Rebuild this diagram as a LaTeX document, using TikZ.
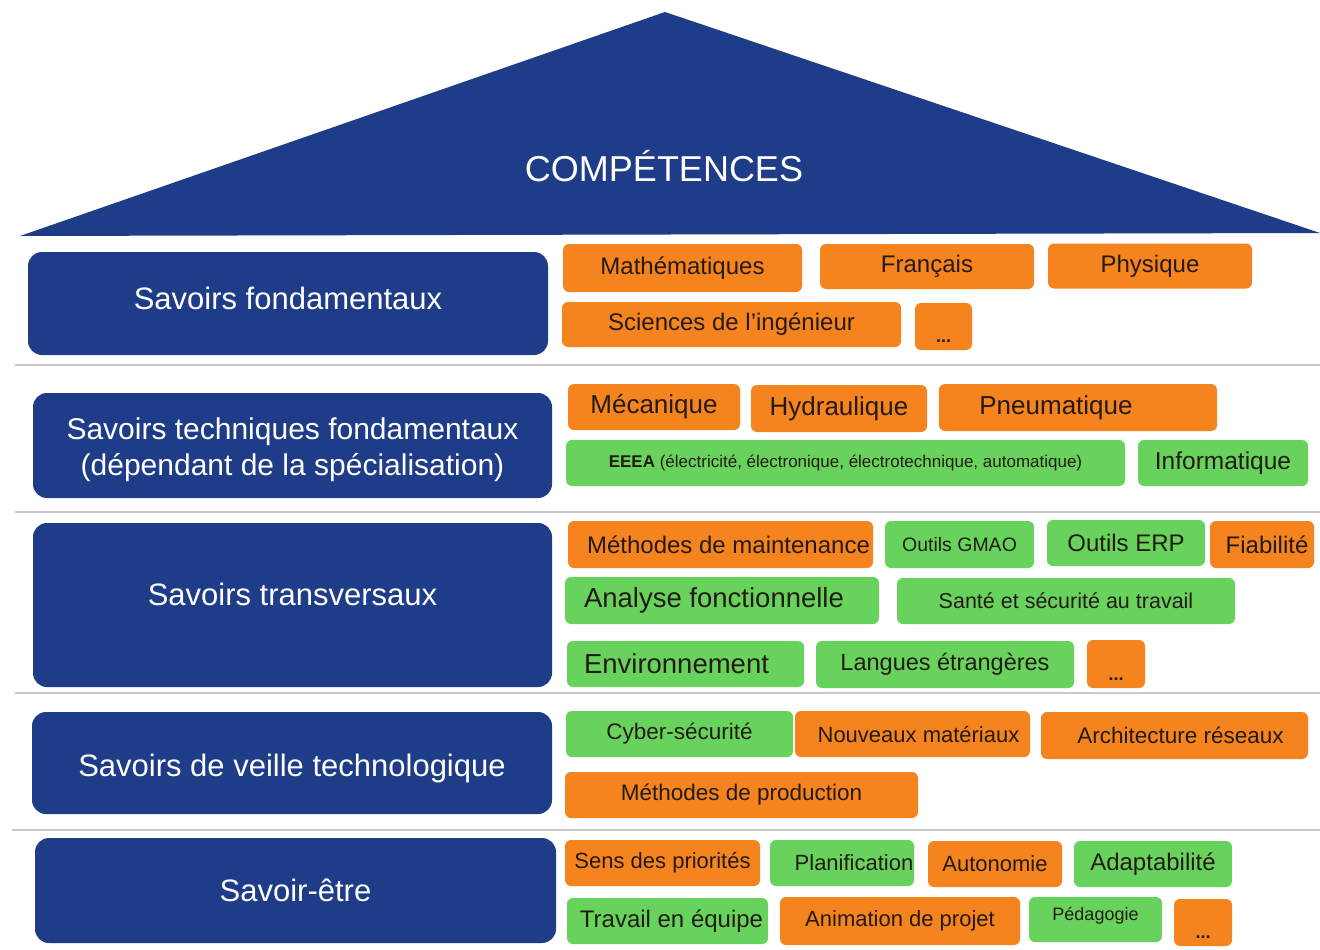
\documentclass[tikz,border=0pt]{standalone}
\usepackage{fontspec}
\setmainfont{Liberation Sans}
\definecolor{cblue}{HTML}{1F3C88}
\definecolor{corange}{HTML}{F5841F}
\definecolor{cgreen}{HTML}{68D35C}
\definecolor{cgray}{HTML}{C8C8C8}
\definecolor{ctext}{HTML}{241A14}
\newcommand{\fsz}[1]{\fontsize{#1pt}{#1pt}\selectfont}
\begin{document}
\begin{tikzpicture}[x=1pt,y=-1pt,
  sz/.style 2 args={minimum width=#1pt, minimum height=#2pt},
  lbox/.style={fill=cblue, rounded corners=14pt, text=white, align=center, inner sep=0pt, font=\fsz{31}},
  ltext/.style={text=white, align=center, font=\fsz{31}},
  ob/.style={fill=corange, rounded corners=6pt, text=ctext, inner sep=0pt},
  gb/.style={fill=cgreen, rounded corners=6pt, text=ctext, inner sep=0pt},
  dotsty/.style={text=ctext, font=\bfseries\fsz{18}, yshift=-15pt},
  sep/.style={draw=cgray, line width=2pt}]
\useasboundingbox (0,0) rectangle (1320,950);
\fill[white] (0,0) rectangle (1320,950);

% roof
\coordinate (rl) at (20,236);
\coordinate (rt) at (665,12);
\coordinate (rr) at (1320,233);
\fill[cblue] (rl) -- (rt) -- (rr) -- cycle;
\node[text=white, font=\fsz{36}] (comp) at (664,166) {COMPÉTENCES};

% separators
\draw[sep] (15,365) -- (1320,365);
\draw[sep] (15,512) -- (1320,512);
\draw[sep] (15,693) -- (1320,693);
\draw[sep] (12,830) -- (1320,830);

% left blocks
\node[lbox, sz={520}{103}, label={[ltext, yshift=5pt]center:Savoirs fondamentaux}] (L1) at (288,303.5) {};
\node[lbox, sz={519}{105}, label={[ltext, font=\fsz{30}, yshift=-4pt]center:{Savoirs techniques fondamentaux\\[6pt](dépendant de la spécialisation)}}] (L2) at (292.5,445.5) {};
\node[lbox, sz={519}{164}, label={[ltext, yshift=11pt]center:Savoirs transversaux}] (L3) at (292.5,605) {};
\node[lbox, sz={520}{102}, label={[ltext, yshift=-5pt]center:Savoirs de veille technologique}] (L4) at (292,763) {};
\node[lbox, sz={521}{105}] (L5) at (295.5,890.5) {Savoir-être};

% row 1
\node[ob, sz={239}{48}, font=\fsz{24}] (math) at (682.5,268) {Mathématiques};
\node[ob, sz={214}{45}, font=\fsz{24}] (fr) at (927,266.5) {Français};
\node[ob, sz={204}{45}, font=\fsz{24}] (phys) at (1150,266) {Physique};
\node[ob, sz={339}{45}, font=\fsz{24}] (sci) at (731.5,324.5) {Sciences de l’ingénieur};
\node[ob, sz={57}{47}, label={[dotsty]center:...}] (d1) at (943.5,326.5) {};

% row 2
\node[ob, sz={172}{46}, font=\fsz{26}] (meca) at (654,407) {\raisebox{-3pt}{Mécanique}};
\node[ob, sz={176}{47}, font=\fsz{26}] (hydr) at (839,408.5) {Hydraulique};
\node[ob, sz={278}{47}, font=\fsz{26}] (pneu) at (1078,407.5) {\raisebox{-3pt}{Pneumatique}\hspace*{44pt}};
\node[gb, sz={559}{46}, font=\fsz{17}] (eeea) at (845.5,463) {\textbf{EEEA} (électricité, électronique, électrotechnique, automatique)};
\node[gb, sz={170}{46}, font=\fsz{24.5}] (info) at (1223,463) {Informatique};

% row 3
\node[ob, sz={305}{47}, font=\fsz{24}] (mmaint) at (720.5,544.5) {\hspace*{16pt}Méthodes de maintenance};
\node[gb, sz={149}{47}, font=\fsz{19.5}] (gmao) at (959.5,544.5) {Outils GMAO};
\node[gb, sz={158}{46}, font=\fsz{24}] (erp) at (1126,543) {Outils ERP};
\node[ob, sz={104}{47}, font=\fsz{24}] (fiab) at (1262,544.5) {\hspace*{10pt}Fiabilité};
\node[gb, sz={314}{47}, font=\fsz{27.5}] (anal) at (722,600.5) {Analyse fonctionnelle\hspace*{16pt}};
\node[gb, sz={338}{46}, font=\fsz{21.5}] (sante) at (1066,601) {Santé et sécurité au travail};
\node[gb, sz={237}{46}, font=\fsz{27.5}] (env) at (685.5,664) {Environnement\hspace*{18pt}};
\node[gb, sz={258}{47}, font=\fsz{23.5}] (lang) at (945,664.5) {Langues étrangères};
\node[ob, sz={58}{48}, label={[dotsty]center:...}] (d2) at (1116,664) {};

% row 4
\node[gb, sz={227}{46}, font=\fsz{22.5}] (cyber) at (679.5,734) {Cyber-sécurité};
\node[ob, sz={235}{46}, font=\fsz{22}] (nouv) at (912.5,734) {\hspace*{12pt}Nouveaux matériaux};
\node[ob, sz={267}{47}, font=\fsz{22.5}] (archi) at (1174.5,735.5) {\hspace*{12pt}Architecture réseaux};
\node[ob, sz={353}{46}, font=\fsz{22.5}] (mprod) at (741.5,795) {Méthodes de production};

% row 5
\node[ob, sz={195}{46}, font=\fsz{22}] (sens) at (662.5,863) {Sens des priorités};
\node[gb, sz={144}{46}, font=\fsz{22}] (plan) at (842,863) {\hspace*{24pt}Planification};
\node[ob, sz={134}{46}, font=\fsz{22}] (auto) at (995,864) {Autonomie};
\node[gb, sz={158}{46}, font=\fsz{24}] (adapt) at (1153,864) {Adaptabilité};
\node[gb, sz={201}{46}, font=\fsz{24}] (trav) at (667.5,921) {\hspace*{8pt}Travail en équipe};
\node[ob, sz={240}{48}, font=\fsz{22}] (anim) at (900,921) {Animation de projet};
\node[gb, sz={133}{45}, label={[text=ctext, font=\fsz{18}, yshift=4pt]center:Pédagogie}] (peda) at (1095.5,919.5) {};
\node[ob, sz={58}{47}, label={[dotsty]center:...}] (d3) at (1203,922.5) {};
\end{tikzpicture}
\end{document}
